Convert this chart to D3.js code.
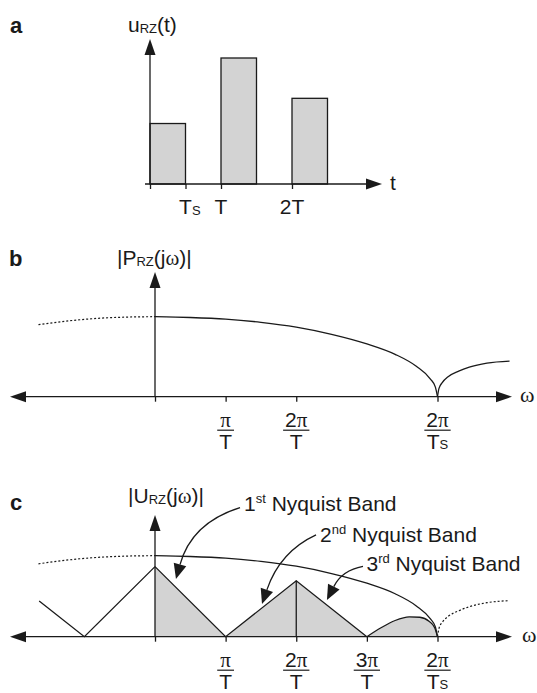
<!DOCTYPE html>
<html>
<head>
<meta charset="utf-8">
<title>RZ pulses and spectrum</title>
<style>
  body { margin: 0; background: #fff; }
  svg { display: block; font-family: "Liberation Sans", Arial, sans-serif; }
</style>
<script src="https://d3js.org/d3.v7.min.js"></script>
</head>
<body>
<svg id="chart"></svg>
<script>
// ---- data ----
// a: RZ pulses, start in units of T, height relative to the tallest pulse
const pulseStarts = [0, 1, 2];
const pulseHeights = [0.48, 1.0, 0.68];
const pulseWidth = 0.5;                    // Ts = T/2
const timeTicks = [0, 0.5, 1, 2];
const timeLabels = ["", "T", "T", "2T"];
const timeSubs = ["", "S", "", ""];

// b/c: frequency in units of pi/T, magnitude relative to the value at 0
const envU = [-1.65, -1.2, -0.8, -0.4, 0, 0.5, 1, 1.5, 2, 2.5, 3, 3.4, 3.7, 3.9, 3.97, 4];
const envV = [0.90, 0.95, 0.98, 0.995, 1, 0.99, 0.97, 0.93, 0.87, 0.78, 0.66, 0.53, 0.38, 0.22, 0.12, 0];
const sideU = [4, 4.02, 4.07, 4.15, 4.3, 4.45, 4.7, 5.02];
const sideV = [0, 0.1, 0.18, 0.25, 0.32, 0.37, 0.42, 0.445];
const freqTicksB = [0, 1, 2, 4];
const freqTicksC = [0, 1, 2, 3, 4];
const fracNum = ["", "π", "2π", "3π", "2π"];   // indexed by tick value
const fracDen = ["", "T", "T", "T", "T"];
const fracSub = ["", "", "", "", "S"];

// c: sampled spectrum
const imageU = [-1.64, -1, 0];
const imageV = [0.44, 0, 0.865];
const bandU = [0, 1, 2, 3];
const bandV = [0.865, 0, 0.69, 0];
const humpU = [3, 3.2, 3.4, 3.6, 3.75, 3.88, 3.96, 4];
const humpV = [0, 0.11, 0.2, 0.245, 0.24, 0.19, 0.11, 0];

// c: annotations (label, arrow start, bend, tip) in u / magnitude units
const bandNum = ["1", "2", "3"];
const bandSup = ["st", "nd", "rd"];
const bandLabel = [[1.26, 1.55], [2.336, 1.175], [2.995, 0.805]];
const bandFrom = [[1.204, 1.595], [2.28, 1.256], [2.945, 0.867]];
const bandBend = [[0.52, 1.41], [1.77, 1.05], [2.65, 0.82]];
const bandTip = [[0.297, 0.712], [1.515, 0.403], [2.435, 0.453]];

// ---- drawing ----
const INK = "#1a1a1a", GREY = "#d3d3d3", LW = 1.3;
const svg = d3.select("#chart").attr("width", 537).attr("height", 693);

function arrowHead(g, tip, from, len, half) {
  const dx = tip[0] - from[0], dy = tip[1] - from[1], d = Math.hypot(dx, dy);
  const ux = dx / d, uy = dy / d;
  const bx = tip[0] - ux * len, by = tip[1] - uy * len;
  g.append("path")
    .attr("d", `M${tip[0]},${tip[1]}L${bx - uy * half},${by + ux * half}L${bx + uy * half},${by - ux * half}Z`)
    .attr("fill", INK);
  return [bx, by];
}

function seg(g, x1, y1, x2, y2) {
  g.append("line").attr("x1", x1).attr("y1", y1).attr("x2", x2).attr("y2", y2)
    .attr("stroke", INK).attr("stroke-width", LW);
}

// text made of parts: [text, size, dy, serif]
function rich(g, x, y, parts, anchor) {
  const t = g.append("text").attr("x", x).attr("y", y)
    .attr("text-anchor", anchor || "start").attr("font-size", 21).attr("fill", INK);
  parts.forEach(p => {
    const s = t.append("tspan").text(p[0]);
    if (p[1]) s.attr("font-size", p[1]);
    if (p[2]) s.attr("dy", p[2]);
    if (p[3]) s.attr("font-family", "'Liberation Serif', 'DejaVu Serif', serif");
  });
  return t;
}

function panelLetter(x, y, s) {
  svg.append("text").attr("x", x).attr("y", y).attr("font-size", 22)
    .attr("font-weight", "bold").attr("fill", INK).text(s);
}

function ticks(g, x, axisY, values) {
  g.append("g").attr("transform", `translate(0,${axisY})`)
    .call(d3.axisBottom(x).tickValues(values).tickSize(5).tickSizeOuter(0).tickFormat(""))
    .call(a => a.select(".domain").remove())
    .selectAll("line").attr("stroke", INK).attr("stroke-width", LW);
}

// ---------- panel a ----------
const gA = svg.append("g");
const xA = d3.scaleLinear().domain([0, 1]).range([150, 221]);
const yA = d3.scaleLinear().domain([0, 1]).range([184, 58]);

gA.selectAll("rect").data(pulseStarts).join("rect")
  .attr("x", d => xA(d))
  .attr("width", d => xA(d + pulseWidth) - xA(d))
  .attr("y", (d, i) => yA(pulseHeights[i]))
  .attr("height", (d, i) => yA(0) - yA(pulseHeights[i]))
  .attr("fill", GREY).attr("stroke", INK).attr("stroke-width", LW);

ticks(gA, xA, yA(0), timeTicks);
let b = arrowHead(gA, [382, yA(0)], [145, yA(0)], 16, 5.5);
seg(gA, 145, yA(0), b[0], yA(0));
b = arrowHead(gA, [xA(0), 39], [xA(0), yA(0)], 16, 5.5);
seg(gA, xA(0), yA(0), xA(0), b[1]);

timeTicks.forEach((t, i) => {
  if (!timeLabels[i]) return;
  const main = gA.append("text").attr("x", xA(t)).attr("y", 214).attr("text-anchor", "middle")
    .attr("font-size", 21).attr("fill", INK).text(timeLabels[i]);
  if (timeSubs[i]) {
    const w = main.node().getComputedTextLength();
    gA.append("text").attr("x", xA(t) + w / 2).attr("y", 215).attr("font-size", 13)
      .attr("fill", INK).text(timeSubs[i]);
  }
});
rich(gA, 390, 190, [["t"]]);
rich(gA, 128, 32, [["u"], ["RZ", 13, 1], ["(t)", null, -1]]);
panelLetter(10, 33, "a");

// ---------- shared frequency axes ----------
const xF = d3.scaleLinear().domain([0, 4]).range([155, 437.5]);

function freqFrame(g, y, tickVals, yTip) {
  const ay = y(0);
  ticks(g, xF, ay, tickVals);
  let l = arrowHead(g, [10, ay], [512, ay], 16, 5.5);
  let r = arrowHead(g, [512, ay], [10, ay], 16, 5.5);
  seg(g, l[0], ay, r[0], ay);
  const t = arrowHead(g, [xF(0), yTip], [xF(0), ay], 16, 5.5);
  seg(g, xF(0), ay, xF(0), t[1]);
  tickVals.forEach(v => {
    if (!fracNum[v]) return;
    const cx = xF(v);
    const num = rich(g, cx, ay + 30, [[fracNum[v].slice(0, -1)], [fracNum[v].slice(-1), null, 0, true]], "middle");
    const den = rich(g, cx, ay + 52.5, fracSub[v] ? [[fracDen[v]], [fracSub[v], 13]] : [[fracDen[v]]], "middle");
    const w = Math.max(num.node().getComputedTextLength(), den.node().getComputedTextLength()) + 4;
    g.append("line").attr("x1", cx - w / 2).attr("x2", cx + w / 2)
      .attr("y1", ay + 33.5).attr("y2", ay + 33.5).attr("stroke", INK).attr("stroke-width", 1.2);
  });
}

function curve(g, y, us, vs, keep, dotted) {
  const pts = us.map((u, i) => [u, vs[i]]).filter(keep);
  g.append("path").datum(pts)
    .attr("d", d3.line().x(d => xF(d[0])).y(d => y(d[1])).curve(d3.curveMonotoneX))
    .attr("fill", "none").attr("stroke", INK)
    .attr("stroke-width", dotted ? 1.2 : LW)
    .attr("stroke-dasharray", dotted ? "2,2" : null);
}

// ---------- panel b ----------
const gB = svg.append("g");
const yB = d3.scaleLinear().domain([0, 1]).range([396.7, 316.7]);
curve(gB, yB, envU, envV, d => d[0] <= 0, true);
curve(gB, yB, envU, envV, d => d[0] >= 0, false);
curve(gB, yB, sideU, sideV, () => true, false);
freqFrame(gB, yB, freqTicksB, 272);
rich(gB, 520, 402, [["ω", 22, 0, true]]);
rich(gB, 117, 265, [["|P"], ["RZ", 13, 1], ["(j", null, -1], ["ω", null, 0, true], [")|"]]);
panelLetter(9, 266, "b");

// ---------- panel c ----------
const gC = svg.append("g");
const yC = d3.scaleLinear().domain([0, 1]).range([636.7, 555.7]);

const areaLin = d3.area().x(d => xF(d[0])).y0(yC(0)).y1(d => yC(d[1]));
gC.append("path").datum(bandU.map((u, i) => [u, bandV[i]]))
  .attr("d", areaLin).attr("fill", GREY);
gC.append("path").datum(humpU.map((u, i) => [u, humpV[i]]))
  .attr("d", areaLin.curve(d3.curveMonotoneX)).attr("fill", GREY);

curve(gC, yC, envU, envV, d => d[0] <= 0, true);
curve(gC, yC, envU, envV, d => d[0] >= 0, false);
curve(gC, yC, sideU, sideV, () => true, true);

const lineLin = d3.line().x(d => xF(d[0])).y(d => yC(d[1]));
[[imageU, imageV], [bandU, bandV]].forEach(([us, vs]) => {
  gC.append("path").datum(us.map((u, i) => [u, vs[i]]))
    .attr("d", lineLin).attr("fill", "none").attr("stroke", INK)
    .attr("stroke-width", LW).attr("stroke-linejoin", "miter");
});
gC.append("path").datum(humpU.map((u, i) => [u, humpV[i]]))
  .attr("d", d3.line().x(d => xF(d[0])).y(d => yC(d[1])).curve(d3.curveMonotoneX))
  .attr("fill", "none").attr("stroke", INK).attr("stroke-width", LW);
// vertical at the 2nd band peak
seg(gC, xF(2), yC(0), xF(2), yC(bandV[2]));

freqFrame(gC, yC, freqTicksC, 515);
rich(gC, 522, 642, [["ω", 22, 0, true]]);
rich(gC, 128, 503, [["|U"], ["RZ", 13, 1], ["(j", null, -1], ["ω", null, 0, true], [")|"]]);
panelLetter(10, 510, "c");

// Nyquist band call-outs
bandNum.forEach((n, i) => {
  const p = d => [xF(d[0]), yC(d[1])];
  const s = p(bandFrom[i]), c = p(bandBend[i]), t = p(bandTip[i]);
  const base = arrowHead(gC, t, c, 15, 6.5);
  gC.append("path").attr("d", `M${s[0]},${s[1]}Q${c[0]},${c[1]} ${base[0]},${base[1]}`)
    .attr("fill", "none").attr("stroke", INK).attr("stroke-width", LW);
  const l = p(bandLabel[i]);
  rich(gC, l[0], l[1], [[n], [bandSup[i], 13, -8], [" Nyquist Band", null, 8]]);
});
</script>
</body>
</html>
